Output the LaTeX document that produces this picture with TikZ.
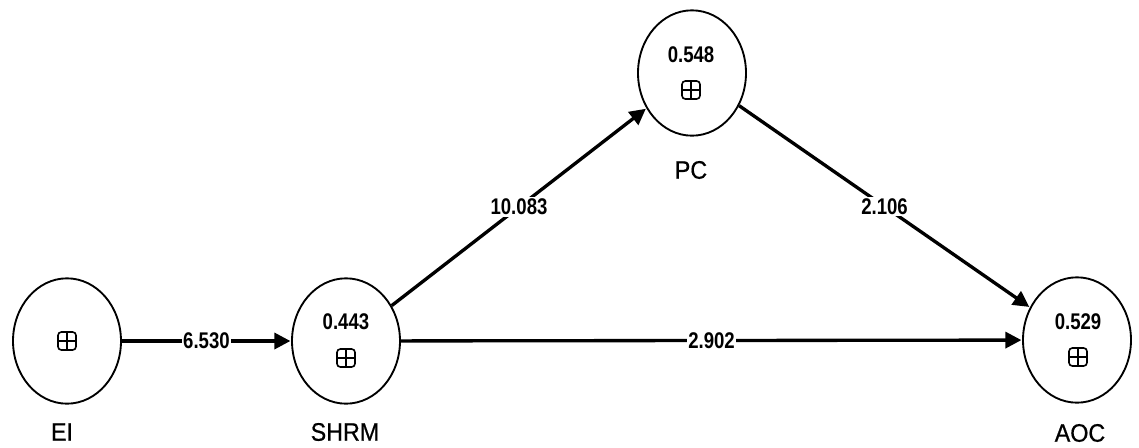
\documentclass[tikz,border=0pt]{standalone}
\usepackage{fontspec}
\setmainfont{Liberation Sans}
\newfontfamily\numfont[FakeStretch=0.82]{Liberation Sans}
\newfontfamily\namefont[FakeStretch=0.92,FakeBold=0.6]{Liberation Sans}
\usetikzlibrary{shapes.geometric,arrows.meta}

\tikzset{
	latent/.style={draw,ellipse,line width=1.4pt,minimum width=81pt,minimum height=94pt,inner sep=0pt},
	plusbox/.style={draw,rounded corners=2.5pt,line width=1.2pt,minimum size=13.5pt,inner sep=0pt,
		path picture={\draw[line width=1.1pt] (path picture bounding box.north) -- (path picture bounding box.south)
			(path picture bounding box.west) -- (path picture bounding box.east);}},
	rsq/.style={font=\numfont\bfseries\fontsize{17}{18}\selectfont,inner sep=0.75pt},
	cname/.style={font=\namefont\fontsize{19}{20}\selectfont,inner sep=0.75pt},
	pathline/.style={-{Triangle[length=12pt,width=12pt]},line width=2.5pt,shorten >=0.5pt},
	coef/.style={font=\numfont\bfseries\fontsize{17}{18}\selectfont,fill=white,inner sep=1.2pt}
}

\begin{document}
\begin{tikzpicture}[x=0.75pt,y=0.75pt,yscale=-1,xscale=1]
	\useasboundingbox (0,0) rectangle (1139,447);
	% constructs
	\node [latent] (ei) at (67,341) {};
	\node [latent] (shrm) at (346,341) {};
	\node [latent] (pc) at (692,73) {};
	\node [latent] (aoc) at (1077,340) {};

	\node [plusbox] (eibox) at (67,341) {};
	\node [rsq] (shrmr) at (346,322) {0.443};
	\node [plusbox] (shrmbox) at (346,358) {};
	\node [rsq] (pcr) at (691,55) {0.548};
	\node [plusbox] (pcbox) at (691,90) {};
	\node [rsq] (aocr) at (1078,322) {0.529};
	\node [plusbox] (aocbox) at (1078,357) {};

	\node [cname] (einame) at (62,432) {EI};
	\node [cname] (shrmname) at (345,432) {SHRM};
	\node [cname] (pcname) at (691,170) {PC};
	\node [cname] (aocname) at (1080,433) {AOC};

	% paths
	\draw [pathline] (ei) -- node [coef] {6.530} (shrm);
	\draw [pathline] (shrm) -- node [coef] {10.083} (pc);
	\draw [pathline] (pc) -- node [coef] {2.106} (aoc);
	\draw [pathline] (shrm) -- node [coef] {2.902} (aoc);
\end{tikzpicture}
\end{document}
